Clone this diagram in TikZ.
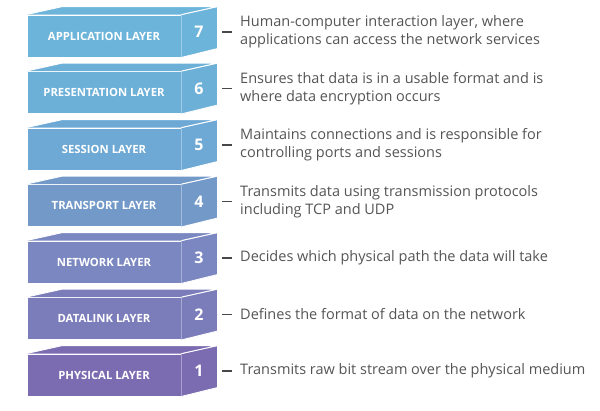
\documentclass[tikz,border=0pt]{standalone}
\usepackage{fontspec}
\setmainfont{Open Sans}
\usepackage{tikz}
\usetikzlibrary{calc}

\definecolor{layerseven}{HTML}{6CB4DA}
\definecolor{layersix}{HTML}{6CB0D8}
\definecolor{layerfive}{HTML}{6DA9D4}
\definecolor{layerfour}{HTML}{7399C9}
\definecolor{layerthree}{HTML}{7B87C1}
\definecolor{layertwo}{HTML}{7B7CBA}
\definecolor{layerone}{HTML}{7B6CB1}
\definecolor{desctext}{HTML}{555555}

\tikzset{
  frontface/.style={draw=white, line width=0.9pt, minimum width=154pt,
    minimum height=42pt, inner sep=0pt, text=white,
    font=\fontsize{11.3}{13}\selectfont\bfseries},
  faceline/.style={draw=white, line width=0.9pt, line join=round},
  layernum/.style={text=white, inner sep=0pt,
    font=\fontsize{16}{18}\selectfont\bfseries},
  desc/.style={anchor=west, inner sep=0pt, text=desctext, align=left,
    font=\fontsize{14.5}{18}\selectfont},
  dashline/.style={draw=desctext!85!black, line width=1.5pt}
}

\begin{document}
\begin{tikzpicture}[x=1pt,y=-1pt]
    \useasboundingbox[fill=white] (0,0) rectangle (600,410);
    \foreach \n/\k/\col/\name/\txt in {
        7/0/layerseven/APPLICATION LAYER/{Human-computer interaction layer, where\\applications can access the network services},
        6/1/layersix/PRESENTATION LAYER/{Ensures that data is in a usable format and is\\where data encryption occurs},
        5/2/layerfive/SESSION LAYER/{Maintains connections and is responsible for\\controlling ports and sessions},
        4/3/layerfour/TRANSPORT LAYER/{Transmits data using transmission protocols\\including TCP and UDP},
        3/4/layerthree/NETWORK LAYER/{Decides which physical path the data will take},
        2/5/layertwo/DATALINK LAYER/{Defines the format of data on the network},
        1/6/layerone/PHYSICAL LAYER/{Transmits raw bit stream over the physical medium}} {
      \pgfmathsetmacro{\ytop}{15+56.5*\k}
      \node[frontface, fill=\col] (L\n) at (104,\ytop+21)
        {\raisebox{-2pt}{\name}};
      \fill[\col] (L\n.north east) -- ++(36,-8) -- ++(0,42)
        -- (L\n.south east) -- cycle;
      \draw[faceline] (L\n.north east) -- ++(36,-8) -- ++(0,42)
        -- (L\n.south east);
      \fill[\col] (L\n.north west) -- ++(36,-8)
        -- ([shift={(36,-8)}]L\n.north east) -- (L\n.north east) -- cycle;
      \draw[faceline] (L\n.north west) -- ++(36,-8)
        -- ([shift={(36,-8)}]L\n.north east) -- (L\n.north east);
      \node[layernum] (N\n) at (199,\ytop+17) {\n};
      \coordinate (m\n) at (222,\ytop+17);
      \node[desc] (d\n) at (240,\ytop+17) {\txt};
      \draw[dashline] (m\n) -- ([xshift=-8pt]d\n.west);
    }
  \end{tikzpicture}
\end{document}
